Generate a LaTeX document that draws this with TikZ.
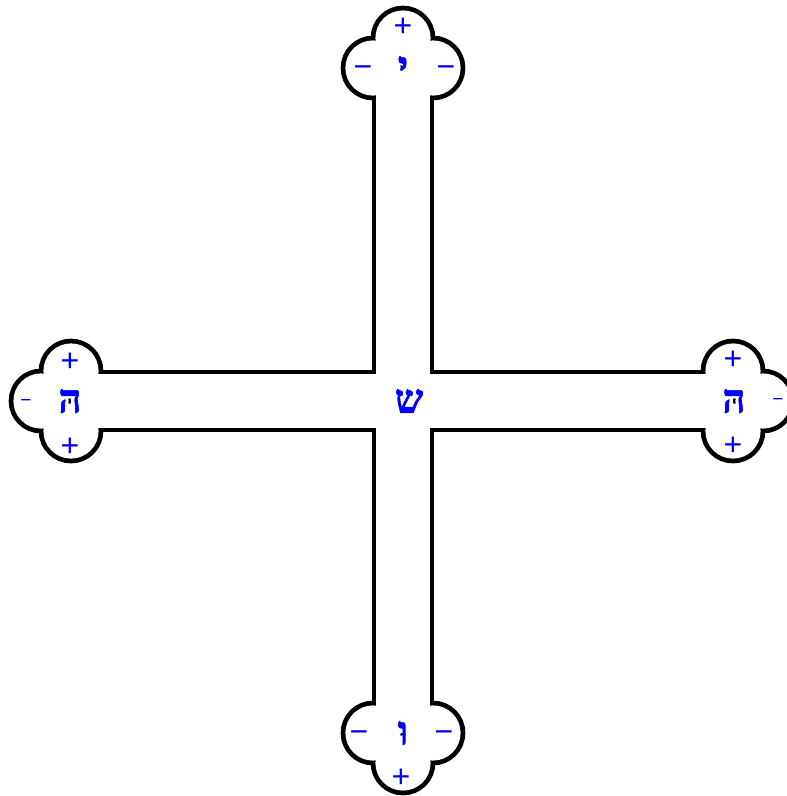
\documentclass[tikz,border=0pt]{standalone}
\usepackage{fontspec}
\setmainfont{Liberation Sans}
\newfontfamily\hebfont[Script=Hebrew,FakeBold=1.5]{Liberation Serif Bold}
\TeXXeTstate=1
\begin{document}
\begin{tikzpicture}[x=1pt,y=-1pt,
  outline/.style={draw=black,line width=9.5pt},
  inside/.style={fill=white},
  letter/.style={text=blue,inner sep=0pt,font=\hebfont\fontsize{40}{40}\selectfont},
  sign/.style={text=blue,inner sep=0pt,font=\fontsize{32}{32}\selectfont},
  smallsign/.style={text=blue,inner sep=0pt,font=\fontsize{19}{19}\selectfont}]
\useasboundingbox (0,0) rectangle (787,796);
\clip (0,0) rectangle (787,796);
\def\lobes{373/68,433/68,403/38,373/733,433/733,403/763,71/371,71/431,41/401,733/371,733/431,763/401}
\foreach \x/\y in \lobes {\path[outline] (\x,\y) circle (27.6pt);}
\path[outline] (376.4,68) rectangle (429.6,733);
\path[outline] (71,374.4) rectangle (733,427.6);
\foreach \x/\y in \lobes {\path[inside] (\x,\y) circle (27.6pt);}
\path[inside] (376.4,68) rectangle (429.6,733);
\path[inside] (71,374.4) rectangle (733,427.6);
% letters
\node[letter] (yod) at (403,68) {\beginR י\endR};
\node[letter] (vav) at (403,733) {\beginR ו\endR};
\node[letter] (heL) at (70,401) {\beginR ה\endR};
\node[letter] (heR) at (734,401) {\beginR ה\endR};
\node[letter] (shin) at (409,401) {\beginR ש\endR};
% signs
\node[sign] (tp) at (403,27) {+};
\node[sign] (tml) at (363,68) {\vphantom{+}−};
\node[sign] (tmr) at (446,68) {\vphantom{+}−};
\node[sign] (bml) at (359,733) {\vphantom{+}−};
\node[sign] (bmr) at (444,733) {\vphantom{+}−};
\node[sign] (bp) at (401,778) {+};
\node[sign] (lpt) at (70,362) {+};
\node[sign] (lpb) at (70,447) {+};
\node[smallsign] (lm) at (26,401) {\vphantom{+}−};
\node[sign] (rpt) at (733,360) {+};
\node[sign] (rpb) at (733,446) {+};
\node[smallsign] (rm) at (778,400) {\vphantom{+}−};
\end{tikzpicture}
\end{document}
